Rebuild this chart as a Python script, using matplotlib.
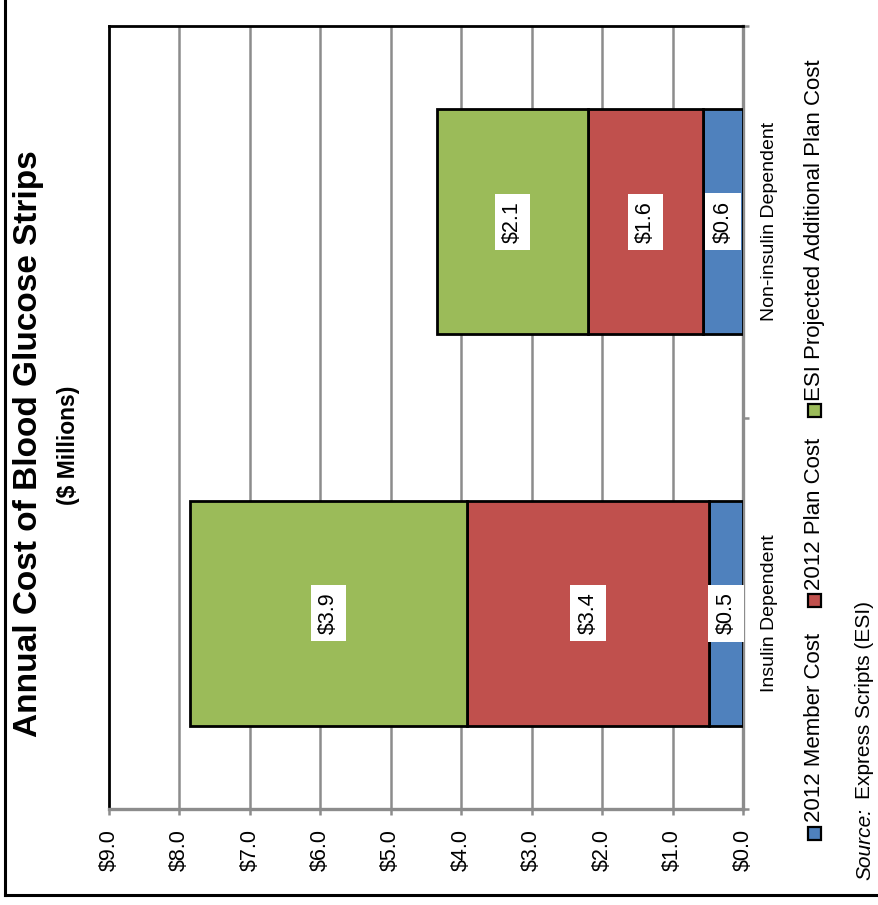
import matplotlib
matplotlib.use("Agg")
import matplotlib.pyplot as plt
from matplotlib.transforms import blended_transform_factory
from matplotlib.patches import Rectangle
from matplotlib.lines import Line2D

# ---------------- data ----------------
categories = ["Insulin Dependent", "Non-insulin Dependent"]
series_names = ["2012 Member Cost", "2012 Plan Cost", "ESI Projected Additional Plan Cost"]
member_cost = [0.48, 0.57]
plan_cost = [3.44, 1.63]
esi_additional = [3.93, 2.14]
value_ticks = [0, 1, 2, 3, 4, 5, 6, 7, 8, 9]
title = "Annual Cost of Blood Glucose Strips"
subtitle = "($ Millions)"
source_label = "Source:"
source_text = "Express Scripts (ESI)"

colors = ["#4F81BD", "#C0504D", "#9BBB59"]
grid_gray = "#8C8C8C"

plt.rcParams["font.family"] = ["Liberation Sans", "DejaVu Sans"]

W, H = 879, 905
fig = plt.figure(figsize=(W / 100, H / 100), dpi=100)
fig.patch.set_facecolor("white")


def fx(px):
    return px / W


def fy(py):
    return 1 - py / H


ax = fig.add_axes([fx(109), fy(809), fx(743) - fx(109), fy(26) - fy(809)])

series = [member_cost, plan_cost, esi_additional]
ypos = list(range(len(categories)))
left = [0.0] * len(categories)
for vals, col, name in zip(series, colors, series_names):
    ax.barh(ypos, vals, left=left, height=0.575, color=col, edgecolor="black",
            linewidth=2.0, zorder=3, label=name)
    for y, l, v in zip(ypos, left, vals):
        ax.text(l + v / 2, y, f"${v:.1f}", rotation=90, ha="center", va="center",
                fontsize=15.5, zorder=5,
                bbox=dict(facecolor="white", edgecolor="none", pad=5.2))
    left = [a + b for a, b in zip(left, vals)]

ax.set_xlim(max(value_ticks), min(value_ticks))
ax.set_ylim(-0.5, len(categories) - 0.5)

# gridlines
for v in value_ticks[1:-1]:
    ax.axvline(v, color=grid_gray, linewidth=1.8, zorder=1)

# spines
ax.spines["left"].set_color("black")
ax.spines["left"].set_linewidth(2.0)
ax.spines["top"].set_color("black")
ax.spines["top"].set_linewidth(2.0)
ax.spines["right"].set_color(grid_gray)
ax.spines["right"].set_linewidth(2.4)
ax.spines["bottom"].set_color(grid_gray)
ax.spines["bottom"].set_linewidth(2.4)

ax.set_xticks(value_ticks)
ax.set_xticklabels([f"${v:.1f}" for v in value_ticks], rotation=90, fontsize=15.5)
ax.tick_params(axis="x", direction="out", length=4.5, width=1.8, color=grid_gray, pad=10)

ax.yaxis.tick_right()
ax.set_yticks([i - 0.5 for i in range(len(categories) + 1)])
ax.set_yticklabels([])
ax.tick_params(axis="y", direction="out", length=4.5, width=1.8, color=grid_gray)

# category labels
tr = blended_transform_factory(fig.transFigure, ax.transData)
for y, c in zip(ypos, categories):
    ax.text(fx(770), y, c, transform=tr, rotation=90, ha="center", va="center",
            fontsize=14)

# titles
fig.text(fx(29), fy(444), title, rotation=90, ha="center", va="center",
         fontsize=24, fontweight="bold")
fig.text(fx(68), fy(445), subtitle, rotation=90, ha="center", va="center",
         fontsize=16.5, fontweight="bold")

renderer = fig.canvas.get_renderer()

# legend (rotated, drawn manually); marker centres in pixels from top
lx = 815
marker_centres = [833, 600, 411]
msz = 13
for name, col, mc in zip(series_names, colors, marker_centres):
    fig.patches.append(Rectangle((fx(lx - msz / 2), fy(mc + msz / 2)), fx(msz), msz / H,
                                 transform=fig.transFigure, facecolor=col,
                                 edgecolor="black", linewidth=1.6))
    fig.text(fx(lx), fy(mc - msz / 2 - 4), name, rotation=90, rotation_mode="anchor",
             ha="left", va="center", fontsize=16)

# source line
sx = 865
t1 = fig.text(fx(sx), fy(880), source_label, rotation=90, rotation_mode="anchor",
              ha="left", va="center", fontsize=15, style="italic")
e1 = t1.get_window_extent(renderer)
fig.text(fx(sx), fy(880 - e1.height - 9), source_text, rotation=90, rotation_mode="anchor",
         ha="left", va="center", fontsize=15)

# outer frame (left and bottom edges)
fig.lines.append(Line2D([fx(5), fx(5)], [fy(0), fy(895)], transform=fig.transFigure,
                        color="black", linewidth=2.2))
fig.lines.append(Line2D([fx(5), fx(879)], [fy(895), fy(895)], transform=fig.transFigure,
                        color="black", linewidth=2.2))

fig.savefig("out.png", dpi=100)
